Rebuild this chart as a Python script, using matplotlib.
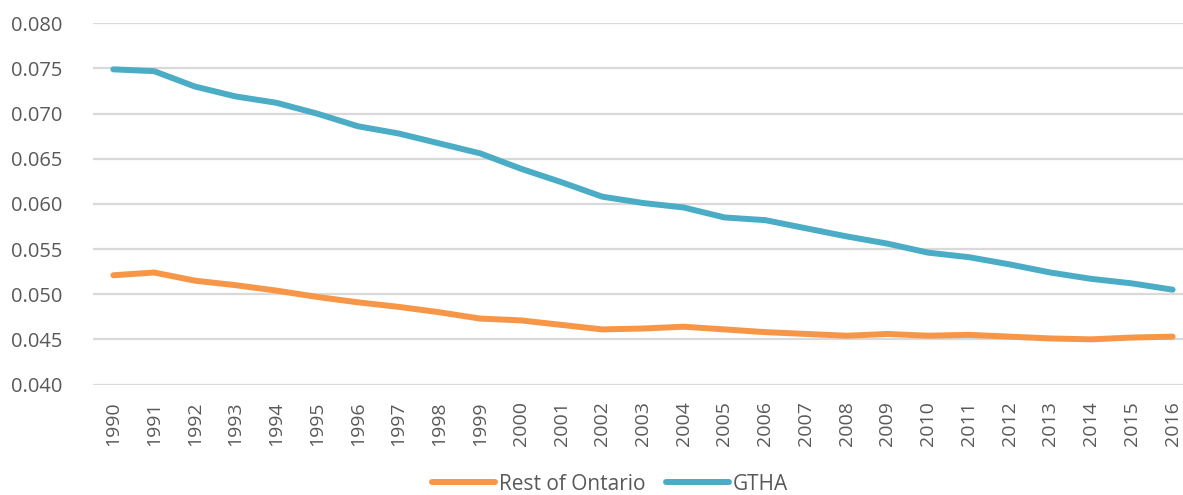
import matplotlib
matplotlib.use("Agg")
import matplotlib.pyplot as plt
import numpy as np

years = [str(y) for y in range(1990, 2017)]
rest_of_ontario = [0.0521, 0.0524, 0.0515, 0.0510, 0.0504, 0.0497, 0.0491, 0.0486, 0.0480, 0.0473,
                   0.0471, 0.0466, 0.0461, 0.0462, 0.0464, 0.0461, 0.0458, 0.0456, 0.0454, 0.0456,
                   0.0454, 0.0455, 0.0453, 0.0451, 0.0450, 0.0452, 0.0453]
gtha = [0.0749, 0.0747, 0.0730, 0.0719, 0.0712, 0.0700, 0.0686, 0.0678, 0.0667, 0.0656,
        0.0639, 0.0624, 0.0608, 0.0601, 0.0596, 0.0585, 0.0582, 0.0573, 0.0564, 0.0556,
        0.0546, 0.0541, 0.0533, 0.0524, 0.0517, 0.0512, 0.0505]
yticks = [0.040, 0.045, 0.050, 0.055, 0.060, 0.065, 0.070, 0.075, 0.080]

plt.rcParams['font.family'] = ['Open Sans', 'DejaVu Sans']

W, H = 1183, 495
fig = plt.figure(figsize=(W/100, H/100), dpi=100)
left_px = 93
right_px = 1193
bottom = 1 - 384.5/H
top = 1 - 23.3/H
ax = fig.add_axes([left_px/W, bottom, (right_px-left_px)/W, top-bottom])

x = np.arange(len(years))
ax.plot(x, rest_of_ontario, color='#F79646', lw=4.3, solid_capstyle='round', label='Rest of Ontario')
ax.plot(x, gtha, color='#4BACC6', lw=4.3, solid_capstyle='round', label='GTHA')

ax.set_xlim(-0.5, len(years)-0.5)
ax.set_ylim(0.040, 0.080)
ax.set_yticks(yticks)
ax.set_yticklabels([f"{v:.3f}" for v in yticks])
ax.set_xticks(x)
ax.set_xticklabels(years, rotation=90)
ax.tick_params(axis='both', length=0, labelsize=14.5, labelcolor='#595959')
ax.tick_params(axis='y', pad=22)
ax.tick_params(axis='x', pad=12, labelsize=14)
ax.grid(axis='y', color='#D9D9D9', lw=1.6)
ax.set_axisbelow(True)
for s in ax.spines.values():
    s.set_visible(False)

leg = fig.legend(loc='center', bbox_to_anchor=(610/W, 1-484/H), ncol=2, frameon=False,
                 fontsize=15, handlelength=3.0, handletextpad=0.2, columnspacing=1.0)
for t in leg.get_texts():
    t.set_color('#595959')

fig.savefig('out.png', dpi=100)
